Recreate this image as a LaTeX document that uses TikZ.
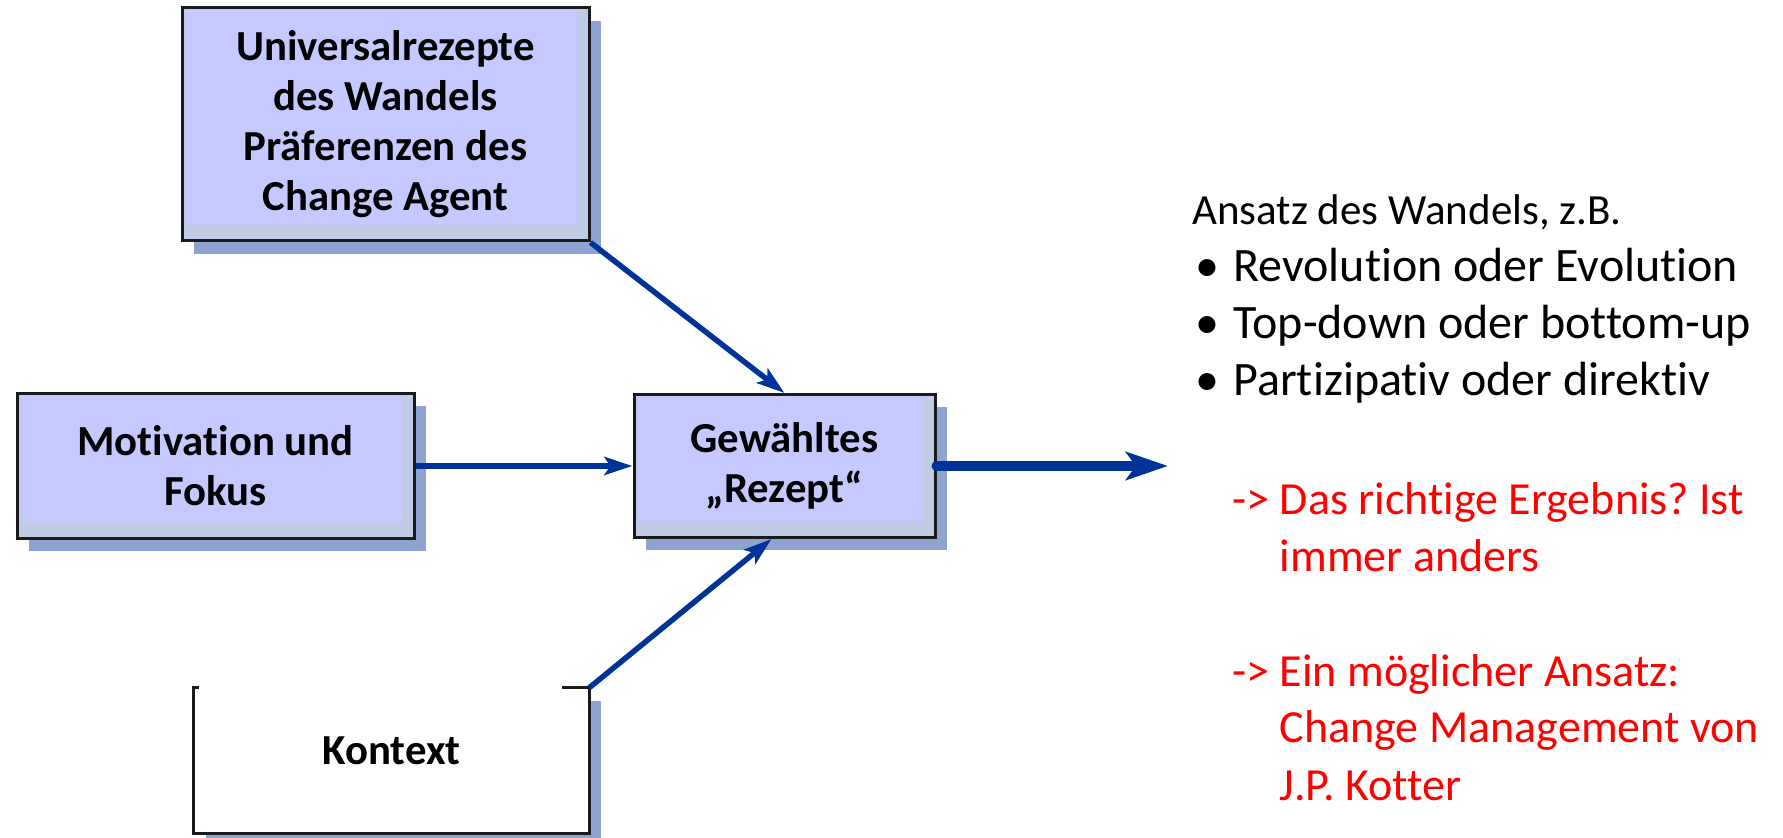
\documentclass[tikz,border=0pt]{standalone}
\usepackage{fontspec}
\setmainfont{Carlito}[Ligatures={TeX,NoCommon}]
\usetikzlibrary{arrows.meta,shadows}

\definecolor{arrowblue}{RGB}{0,51,153}
\definecolor{boxline}{RGB}{26,26,26}
\definecolor{boxlav}{RGB}{197,201,255}
\definecolor{boxgrey}{RGB}{192,204,230}
\definecolor{shadowblue}{RGB}{143,163,209}
\definecolor{notered}{RGB}{255,0,0}

\tikzset{
  recipebox/.style={draw=boxline, line width=1.5pt, fill=boxgrey, inner sep=0pt,
    align=center, font=\bfseries\fontsize{21.4}{25}\selectfont,
    general shadow={fill=shadowblue, shadow xshift=6pt, shadow yshift=-6.5pt},
    path picture={\fill[boxlav] ([xshift=2pt]path picture bounding box.north west)
      rectangle ([xshift=-6pt,yshift=8pt]path picture bounding box.south east);}},
  contextbox/.style={fill=white, inner sep=0pt, text depth=10pt,
    font=\bfseries\fontsize{21.4}{25}\selectfont,
    general shadow={fill=shadowblue, shadow xshift=6pt, shadow yshift=-6.5pt}},
  flow/.style={draw=arrowblue, line width=2.75pt, -{Stealth[length=14pt,width=9pt,inset=3pt]}},
  bigflow/.style={draw=arrowblue, line width=5pt, line cap=round,
    -{Stealth[length=21pt,width=14pt,inset=5pt]}},
  headtext/.style={anchor=base west, inner sep=0pt, font=\fontsize{21.5}{28.5}\selectfont},
  itemtext/.style={anchor=base west, inner sep=0pt, font=\fontsize{24}{28.5}\selectfont},
  notetext/.style={anchor=base west, inner sep=0pt, align=left, text=notered,
    font=\fontsize{23}{28.5}\selectfont\frenchspacing}
}

\begin{document}
\begin{tikzpicture}[x=0.5pt,y=-0.5pt]
\useasboundingbox (0,0) rectangle (1783,838);

% boxes
\node[recipebox, minimum width=203.5pt, minimum height=116.5pt] (univ) at (385.5,124.5)
  {Universalrezepte\\des Wandels\\Präferenzen des\\Change Agent};
\node[recipebox, minimum width=198.5pt, minimum height=72.5pt] (motiv) at (215.5,466)
  {Motivation und\\Fokus};
\node[recipebox, minimum width=150.5pt, minimum height=71.5pt] (rezept) at (784.5,466)
  {Gewähltes\\„Rezept“};
\node[contextbox, minimum width=197.5pt, minimum height=72.5pt] (kontext) at (391.5,760.5)
  {Kontext};
\draw[boxline, line width=1.5pt] ([xshift=2.5pt]kontext.north west) -- (kontext.north west)
  -- (kontext.south west) -- (kontext.south east) -- (kontext.north east)
  -- ([xshift=-13.5pt]kontext.north east);

% arrows
\coordinate (out) at (1168,466);
\draw[flow] (univ.south east) -- (rezept.north);
\draw[flow] (motiv.east) -- (motiv.east -| rezept.west);
\draw[flow] (kontext.north east) -- ([xshift=-6.5pt]rezept.south);
\draw[bigflow] (rezept.east) -- (out);

% text on the right
\node[headtext] (ansatz) at (1192,225) {Ansatz des Wandels, z.B.};
\foreach \t [count=\i] in {Revolution oder Evolution, Top-down oder bottom-up, Partizipativ oder direktiv}
  \node[itemtext] (item\i) at (1195,225+57*\i) {\makebox[19pt][l]{\textbullet}\t};
% base of a multi-line node is its last line
\node[notetext] (note1) at (1232,572) {->\ Das richtige Ergebnis? Ist\\\hphantom{->}\ immer anders};
\node[notetext] (note2) at (1232,800) {->\ Ein möglicher Ansatz:\\\hphantom{->}\ Change Management von\\\hphantom{->}\ J.P. Kotter};
\end{tikzpicture}
\end{document}
